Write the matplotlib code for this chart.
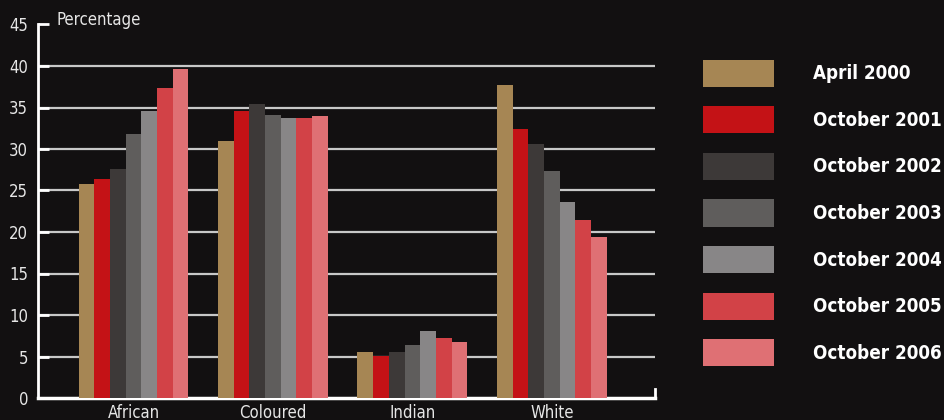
import numpy as np
import matplotlib.pyplot as plt
from matplotlib.patches import Patch

# Data
groups = ['African', 'Coloured', 'Indian', 'White']
periods = ['April 2000', 'October 2001', 'October 2002', 'October 2003',
           'October 2004', 'October 2005', 'October 2006']
african = [25.8, 26.4, 27.6, 31.8, 34.6, 37.4, 39.6]
coloured = [31.0, 34.6, 35.4, 34.1, 33.7, 33.7, 34.0]
indian = [5.6, 5.1, 5.5, 6.4, 8.1, 7.2, 6.7]
white = [37.7, 32.4, 30.6, 27.4, 23.6, 21.4, 19.4]
yticks = [0, 5, 10, 15, 20, 25, 30, 35, 40, 45]

colors = ['#a68654', '#c41216', '#3d3938', '#5f5d5c', '#888687', '#d24247', '#df7074']
bg = '#121011'
fg = '#e6e6e6'

plt.rcParams['font.family'] = ['DejaVu Sans']
plt.rcParams['font.stretch'] = 'condensed'

vals = np.array([african, coloured, indian, white])  # group x period

fig = plt.figure(figsize=(9.44, 4.2), dpi=100, facecolor=bg)
ax = fig.add_axes([38/944, 1-398/420, (655-38)/944, (398-24.5)/420])
ax.set_facecolor(bg)

x = np.arange(len(groups))
w = 0.1125
for i, p in enumerate(periods):
    ax.bar(x + (i - 3)*w, vals[:, i], width=w, color=colors[i], label=p, zorder=3)

ax.set_ylim(0, 45)
ax.set_xlim(-0.685, 3.74)
ax.set_yticks(yticks)
ax.set_yticklabels([str(t) for t in yticks], color=fg, fontsize=12)
ax.set_xticks(x)
ax.set_xticklabels(groups, color=fg, fontsize=12)
ax.tick_params(axis='x', length=0, pad=4)
ax.tick_params(axis='y', direction='in', length=8, width=2, color='white', pad=7)

for t in yticks[1:-1]:
    ax.axhline(t, color='#c8c8c8', lw=1.6, zorder=1)

ax.spines['top'].set_visible(False)
ax.spines['left'].set_color('white')
ax.spines['left'].set_linewidth(2)
ax.spines['bottom'].set_color('white')
ax.spines['bottom'].set_linewidth(2.5)
ax.spines['right'].set_color('white')
ax.spines['right'].set_linewidth(2)
ax.spines['right'].set_bounds(0, 1.1)

fig.text(57/944, 1-20/420, 'Percentage', color=fg, fontsize=12, va='center', ha='left')

# legend, sized so the longest label still fits at the right edge
handles = [Patch(facecolor=c, edgecolor='none') for c in colors]
fig.legend(handles, periods, loc='upper left', bbox_to_anchor=(695/944, 1-52/420),
           frameon=False, handlelength=3.8, handleheight=1.85,
           labelspacing=1.04, handletextpad=2.08, borderaxespad=0,
           labelcolor='white', prop={'weight': 'bold', 'size': 13.5, 'stretch': 'condensed'})

fig.savefig('out.png', dpi=100, facecolor=bg)
